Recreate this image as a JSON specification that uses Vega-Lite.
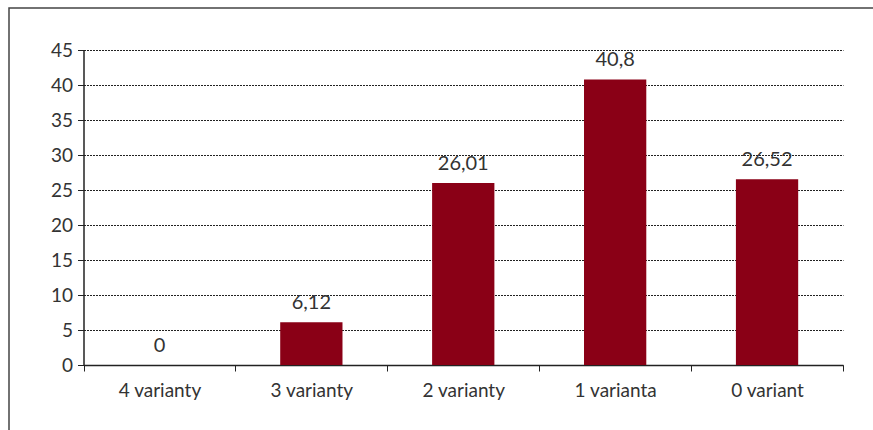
{
  "$schema": "https://vega.github.io/schema/vega-lite/v6.json",
  "width": 900,
  "height": 450,
  "autosize": "none",
  "padding": {"left": 9, "top": 8, "right": 0, "bottom": 0},
  "background": "white",
  "config": {
    "locale": {
      "number": {"decimal": ",", "thousands": " ", "grouping": [3], "currency": ["", ""]}
    },
    "view": {"stroke": "#444", "strokeWidth": 1.5},
    "font": "Lato"
  },
  "data": {
    "values": [
      {"kategorie": "4 varianty", "podil": 0},
      {"kategorie": "3 varianty", "podil": 6.12},
      {"kategorie": "2 varianty", "podil": 26.01},
      {"kategorie": "1 varianta", "podil": 40.8},
      {"kategorie": "0 variant", "podil": 26.52}
    ]
  },
  "encoding": {
    "x": {
      "field": "kategorie",
      "type": "nominal",
      "sort": null,
      "scale": {"range": [74.5, 834], "paddingInner": 0, "paddingOuter": 0},
      "axis": {
        "title": null,
        "offset": -93,
        "labelAngle": 0,
        "tickBand": "extent",
        "tickSize": 6,
        "tickColor": "#222",
        "domainColor": "#222",
        "domainWidth": 1.5,
        "labelPadding": 10,
        "labelFontSize": 19,
        "labelColor": "#333",
        "grid": false
      }
    },
    "y": {
      "field": "podil",
      "type": "quantitative",
      "scale": {"domain": [0, 45], "range": [357, 42], "nice": false},
      "axis": {
        "title": null,
        "values": [0, 5, 10, 15, 20, 25, 30, 35, 40, 45],
        "offset": -74.5,
        "grid": true,
        "gridDash": [2, 1],
        "gridColor": "#222",
        "gridWidth": 1,
        "domainColor": "#222",
        "domainWidth": 1.5,
        "tickColor": "#222",
        "tickSize": 6,
        "labelPadding": 5,
        "labelFontSize": 19,
        "labelColor": "#333"
      }
    }
  },
  "layer": [
    {"mark": {"type": "bar", "color": "#8a0016", "width": {"band": 0.41}}},
    {
      "mark": {"type": "text", "dy": -13, "baseline": "alphabetic", "fontSize": 20, "color": "#333"},
      "encoding": {"text": {"field": "podil", "type": "quantitative", "format": "~g"}}
    }
  ]
}
